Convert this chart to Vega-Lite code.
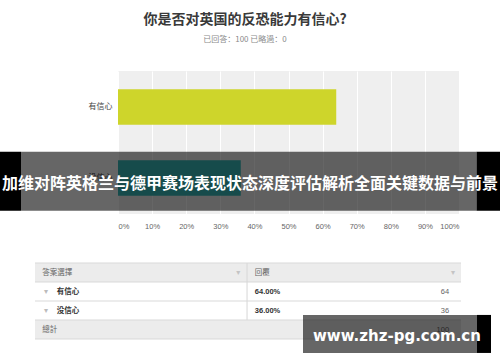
{
  "$schema": "https://vega.github.io/schema/vega-lite/v6.json",
  "width": 341,
  "height": 143,
  "autosize": {"type": "none"},
  "padding": {"left": 118, "top": 71, "right": 41, "bottom": 148},
  "background": "white",
  "config": {"font": "Noto Sans CJK SC", "view": {"fill": "#efefef", "stroke": null}},
  "title": {
    "text": "你是否对英国的反恐能力有信心?",
    "subtitle": "已回答：100    已略過：0",
    "anchor": "middle",
    "frame": "bounds",
    "dx": -5,
    "offset": 27,
    "fontSize": 14,
    "fontWeight": "bold",
    "color": "#3a3a3a",
    "font": "Noto Sans CJK SC",
    "subtitleFontSize": 8,
    "subtitleColor": "#8a8a8a",
    "subtitleFont": "Noto Sans CJK SC",
    "subtitlePadding": 9
  },
  "datasets": {
    "answers": [
      {"answer": "有信心", "pct": 0.64, "count": 64},
      {"answer": "没信心", "pct": 0.36, "count": 36}
    ],
    "tableRows": [
      {"row": "答案選擇", "kind": "head"},
      {"row": "有信心", "kind": "body"},
      {"row": "没信心", "kind": "body"},
      {"row": "總計", "kind": "foot"}
    ]
  },
  "data": {"name": "answers"},
  "layer": [
    {
      "mark": {"type": "bar"},
      "encoding": {
        "y": {
          "field": "answer", "type": "nominal", "sort": null,
          "scale": {"paddingInner": 0.5, "paddingOuter": 0.257},
          "axis": {"title": null, "domain": false, "ticks": false, "labelPadding": 6, "labelFontSize": 8, "labelColor": "#444444", "labelFont": "Noto Sans CJK SC"}
        },
        "x": {
          "field": "pct", "type": "quantitative",
          "scale": {"domain": [0, 1], "nice": false},
          "axis": {"title": null, "format": "%", "values": [0, 0.1, 0.2, 0.3, 0.4, 0.5, 0.6, 0.7, 0.8, 0.9, 1], "domain": false, "ticks": false, "labelFlush": true, "labelPadding": 8, "labelFontSize": 7.5, "labelFont": "Liberation Sans", "labelColor": "#666666", "gridColor": "#ffffff", "gridWidth": 1, "gridOpacity": 1}
        },
        "color": {
          "field": "answer", "type": "nominal",
          "scale": {"domain": ["有信心", "没信心"], "range": ["#ced52b", "#37bbbb"]},
          "legend": null
        }
      }
    },
    {
      "layer": [
        {
          "data": {"name": "tableRows"},
          "mark": {"type": "rect", "clip": false},
          "encoding": {
            "x": {"datum": 0, "type": "quantitative", "scale": {"domain": [0, 1], "range": [-83, 343], "nice": false, "zero": false}, "axis": null},
            "x2": {"datum": 1},
            "y": {"field": "row", "type": "nominal", "scale": {"domain": ["答案選擇", "有信心", "没信心", "總計"], "range": [192, 268], "paddingInner": 0, "paddingOuter": 0}, "axis": null},
            "fill": {"condition": {"test": "datum.kind === 'body'", "value": "#ffffff"}, "value": "#ececec"}
          }
        },
        {
          "data": {"name": "tableRows"},
          "mark": {"type": "rule", "clip": false, "color": "#d9d9d9", "strokeWidth": 1},
          "encoding": {
            "x": {"datum": 0, "type": "quantitative", "scale": {"domain": [0, 1], "range": [-83, 343], "nice": false, "zero": false}, "axis": null},
            "x2": {"datum": 1},
            "y": {"field": "row", "type": "nominal", "bandPosition": 0, "scale": {"domain": ["答案選擇", "有信心", "没信心", "總計"], "range": [192, 268], "paddingInner": 0, "paddingOuter": 0}, "axis": null}
          }
        },
        {
          "data": {"name": "tableRows"},
          "transform": [{"filter": "datum.kind === 'foot'"}],
          "mark": {"type": "rule", "clip": false, "color": "#d9d9d9", "strokeWidth": 1},
          "encoding": {
            "x": {"datum": 0, "type": "quantitative", "scale": {"domain": [0, 1], "range": [-83, 343], "nice": false, "zero": false}, "axis": null},
            "x2": {"datum": 1},
            "y": {"field": "row", "type": "nominal", "bandPosition": 1, "scale": {"domain": ["答案選擇", "有信心", "没信心", "總計"], "range": [192, 268], "paddingInner": 0, "paddingOuter": 0}, "axis": null}
          }
        },
        {
          "data": {"name": "tableRows"},
          "transform": [{"filter": "datum.kind !== 'foot'"}],
          "mark": {"type": "rect", "clip": false, "fill": "#d9d9d9"},
          "encoding": {
            "x": {"datum": 0.4965, "type": "quantitative", "scale": {"domain": [0, 1], "range": [-83, 343], "nice": false, "zero": false}, "axis": null},
            "x2": {"datum": 0.499},
            "y": {"field": "row", "type": "nominal", "scale": {"domain": ["答案選擇", "有信心", "没信心", "總計"], "range": [192, 268], "paddingInner": 0, "paddingOuter": 0}, "axis": null}
          }
        },
        {
          "data": {"name": "tableRows"},
          "transform": [{"filter": "datum.kind !== 'body'"}],
          "mark": {"type": "text", "clip": false, "align": "left", "baseline": "middle", "fontSize": 7.5, "color": "#666666"},
          "encoding": {
            "x": {"datum": 0.017, "type": "quantitative", "scale": {"domain": [0, 1], "range": [-83, 343], "nice": false, "zero": false}, "axis": null},
            "y": {"field": "row", "type": "nominal", "scale": {"domain": ["答案選擇", "有信心", "没信心", "總計"], "range": [192, 268], "paddingInner": 0, "paddingOuter": 0}, "axis": null},
            "text": {"field": "row"}
          }
        },
        {
          "data": {"name": "tableRows"},
          "transform": [{"filter": "datum.kind === 'head'"}],
          "mark": {"type": "text", "clip": false, "align": "left", "baseline": "middle", "fontSize": 7.5, "color": "#666666", "text": "回覆"},
          "encoding": {
            "x": {"datum": 0.516, "type": "quantitative", "scale": {"domain": [0, 1], "range": [-83, 343], "nice": false, "zero": false}, "axis": null},
            "y": {"field": "row", "type": "nominal", "scale": {"domain": ["答案選擇", "有信心", "没信心", "總計"], "range": [192, 268], "paddingInner": 0, "paddingOuter": 0}, "axis": null}
          }
        },
        {
          "data": {"name": "tableRows"},
          "transform": [{"filter": "datum.kind === 'head'"}],
          "mark": {"type": "text", "clip": false, "align": "center", "baseline": "middle", "fontSize": 8, "font": "DejaVu Sans", "color": "#c4c4c4", "text": "▾"},
          "encoding": {
            "x": {"datum": 0.477, "type": "quantitative", "scale": {"domain": [0, 1], "range": [-83, 343], "nice": false, "zero": false}, "axis": null},
            "y": {"field": "row", "type": "nominal", "scale": {"domain": ["答案選擇", "有信心", "没信心", "總計"], "range": [192, 268], "paddingInner": 0, "paddingOuter": 0}, "axis": null}
          }
        },
        {
          "data": {"name": "tableRows"},
          "transform": [{"filter": "datum.kind === 'head'"}],
          "mark": {"type": "text", "clip": false, "align": "center", "baseline": "middle", "fontSize": 8, "font": "DejaVu Sans", "color": "#c4c4c4", "text": "▾"},
          "encoding": {
            "x": {"datum": 0.981, "type": "quantitative", "scale": {"domain": [0, 1], "range": [-83, 343], "nice": false, "zero": false}, "axis": null},
            "y": {"field": "row", "type": "nominal", "scale": {"domain": ["答案選擇", "有信心", "没信心", "總計"], "range": [192, 268], "paddingInner": 0, "paddingOuter": 0}, "axis": null}
          }
        },
        {
          "mark": {"type": "text", "clip": false, "align": "center", "baseline": "middle", "fontSize": 8, "font": "DejaVu Sans", "color": "#bbbbbb", "text": "▾"},
          "encoding": {
            "x": {"datum": 0.026, "type": "quantitative", "scale": {"domain": [0, 1], "range": [-83, 343], "nice": false, "zero": false}, "axis": null},
            "y": {"field": "answer", "type": "nominal", "scale": {"domain": ["答案選擇", "有信心", "没信心", "總計"], "range": [192, 268], "paddingInner": 0, "paddingOuter": 0}, "axis": null}
          }
        },
        {
          "mark": {"type": "text", "clip": false, "align": "left", "baseline": "middle", "fontSize": 7.5, "fontWeight": "bold", "color": "#333333"},
          "encoding": {
            "x": {"datum": 0.051, "type": "quantitative", "scale": {"domain": [0, 1], "range": [-83, 343], "nice": false, "zero": false}, "axis": null},
            "y": {"field": "answer", "type": "nominal", "scale": {"domain": ["答案選擇", "有信心", "没信心", "總計"], "range": [192, 268], "paddingInner": 0, "paddingOuter": 0}, "axis": null},
            "text": {"field": "answer"}
          }
        },
        {
          "mark": {"type": "text", "clip": false, "align": "left", "baseline": "middle", "fontSize": 7.5, "fontWeight": "bold", "font": "Liberation Sans", "color": "#333333"},
          "encoding": {
            "x": {"datum": 0.516, "type": "quantitative", "scale": {"domain": [0, 1], "range": [-83, 343], "nice": false, "zero": false}, "axis": null},
            "y": {"field": "answer", "type": "nominal", "scale": {"domain": ["答案選擇", "有信心", "没信心", "總計"], "range": [192, 268], "paddingInner": 0, "paddingOuter": 0}, "axis": null},
            "text": {"field": "pct", "type": "quantitative", "format": ".2%"}
          }
        },
        {
          "mark": {"type": "text", "clip": false, "align": "right", "baseline": "middle", "fontSize": 7.5, "font": "Liberation Sans", "color": "#666666"},
          "encoding": {
            "x": {"datum": 0.972, "type": "quantitative", "scale": {"domain": [0, 1], "range": [-83, 343], "nice": false, "zero": false}, "axis": null},
            "y": {"field": "answer", "type": "nominal", "scale": {"domain": ["答案選擇", "有信心", "没信心", "總計"], "range": [192, 268], "paddingInner": 0, "paddingOuter": 0}, "axis": null},
            "text": {"field": "count", "type": "quantitative"}
          }
        },
        {
          "transform": [{"aggregate": [{"op": "sum", "field": "count", "as": "total"}]}],
          "mark": {"type": "text", "clip": false, "align": "right", "baseline": "middle", "fontSize": 7.5, "font": "Liberation Sans", "color": "#666666"},
          "encoding": {
            "x": {"datum": 0.972, "type": "quantitative", "scale": {"domain": [0, 1], "range": [-83, 343], "nice": false, "zero": false}, "axis": null},
            "y": {"datum": "總計", "type": "nominal", "scale": {"domain": ["答案選擇", "有信心", "没信心", "總計"], "range": [192, 268], "paddingInner": 0, "paddingOuter": 0}, "axis": null},
            "text": {"field": "total", "type": "quantitative"}
          }
        }
      ]
    },
    {
      "data": {"values": [{}]},
      "layer": [
        {
          "mark": {"type": "rect", "clip": false, "fill": "#000000"},
          "encoding": {
            "x": {"datum": 0, "type": "quantitative", "scale": {"domain": [0, 100], "range": [-118, 382], "nice": false, "zero": false}, "axis": null},
            "x2": {"datum": 4.2},
            "y": {"datum": 41.9, "type": "quantitative", "scale": {"domain": [0, 100], "range": [-71, 291], "nice": false, "zero": false}, "axis": null},
            "y2": {"datum": 58.2}
          }
        },
        {
          "mark": {"type": "rect", "clip": false, "fill": "#000000"},
          "encoding": {
            "x": {"datum": 95.3, "type": "quantitative", "scale": {"domain": [0, 100], "range": [-118, 382], "nice": false, "zero": false}, "axis": null},
            "x2": {"datum": 100},
            "y": {"datum": 41.9, "type": "quantitative", "scale": {"domain": [0, 100], "range": [-71, 291], "nice": false, "zero": false}, "axis": null},
            "y2": {"datum": 58.2}
          }
        },
        {
          "mark": {"type": "rect", "clip": false, "fill": "#000000", "fillOpacity": 0.6},
          "encoding": {
            "x": {"datum": 4.2, "type": "quantitative", "scale": {"domain": [0, 100], "range": [-118, 382], "nice": false, "zero": false}, "axis": null},
            "x2": {"datum": 95.3},
            "y": {"datum": 41.9, "type": "quantitative", "scale": {"domain": [0, 100], "range": [-71, 291], "nice": false, "zero": false}, "axis": null},
            "y2": {"datum": 58.2}
          }
        },
        {
          "mark": {"type": "text", "clip": false, "align": "center", "baseline": "middle", "fontSize": 16, "fontWeight": "bold", "font": "Noto Sans CJK SC", "color": "#ffffff", "text": "加维对阵英格兰与德甲赛场表现状态深度评估解析全面关键数据与前景"},
          "encoding": {
            "x": {"datum": 50, "type": "quantitative", "scale": {"domain": [0, 100], "range": [-118, 382], "nice": false, "zero": false}, "axis": null},
            "y": {"datum": 50.8, "type": "quantitative", "scale": {"domain": [0, 100], "range": [-71, 291], "nice": false, "zero": false}, "axis": null}
          }
        },
        {
          "mark": {"type": "rect", "clip": false, "fill": "#000000", "fillOpacity": 0.6},
          "encoding": {
            "x": {"datum": 60.6, "type": "quantitative", "scale": {"domain": [0, 100], "range": [-118, 382], "nice": false, "zero": false}, "axis": null},
            "x2": {"datum": 95.4},
            "y": {"datum": 87.0, "type": "quantitative", "scale": {"domain": [0, 100], "range": [-71, 291], "nice": false, "zero": false}, "axis": null},
            "y2": {"datum": 97.5}
          }
        },
        {
          "mark": {"type": "rect", "clip": false, "fill": "#000000"},
          "encoding": {
            "x": {"datum": 95.4, "type": "quantitative", "scale": {"domain": [0, 100], "range": [-118, 382], "nice": false, "zero": false}, "axis": null},
            "x2": {"datum": 98.2},
            "y": {"datum": 87.0, "type": "quantitative", "scale": {"domain": [0, 100], "range": [-71, 291], "nice": false, "zero": false}, "axis": null},
            "y2": {"datum": 97.5}
          }
        },
        {
          "mark": {"type": "text", "clip": false, "align": "left", "baseline": "middle", "fontSize": 15, "fontWeight": "bold", "font": "DejaVu Sans", "color": "#ffffff", "text": "www.zhz-pg.com.cn"},
          "encoding": {
            "x": {"datum": 62.6, "type": "quantitative", "scale": {"domain": [0, 100], "range": [-118, 382], "nice": false, "zero": false}, "axis": null},
            "y": {"datum": 92.8, "type": "quantitative", "scale": {"domain": [0, 100], "range": [-71, 291], "nice": false, "zero": false}, "axis": null}
          }
        }
      ]
    }
  ],
  "resolve": {"scale": {"x": "independent", "y": "independent"}, "axis": {"x": "independent", "y": "independent"}}
}
